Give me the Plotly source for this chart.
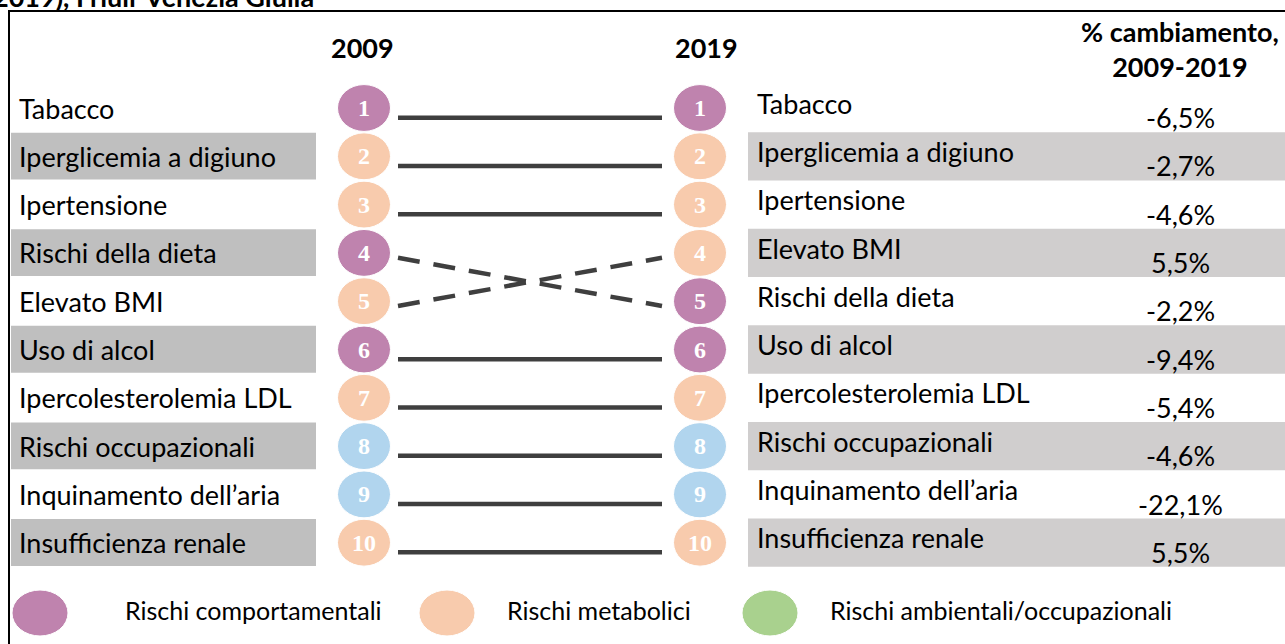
import plotly.graph_objects as go

# ---------------- data ----------------
risks_2009 = ["Tabacco", "Iperglicemia a digiuno", "Ipertensione", "Rischi della dieta",
              "Elevato BMI", "Uso di alcol", "Ipercolesterolemia LDL",
              "Rischi occupazionali", "Inquinamento dell\u2019aria", "Insufficienza renale"]
rank_2009 = [1, 2, 3, 4, 5, 6, 7, 8, 9, 10]
rank_2019 = [1, 2, 3, 5, 4, 6, 7, 8, 9, 10]
pct_change = [-6.5, -2.7, -4.6, -2.2, 5.5, -9.4, -5.4, -4.6, -22.1, 5.5]
risk_group = ["comportamentali", "metabolici", "metabolici", "comportamentali",
              "metabolici", "comportamentali", "metabolici",
              "ambientali", "ambientali", "metabolici"]
legend_labels = ["Rischi comportamentali", "Rischi metabolici", "Rischi ambientali/occupazionali"]
header_left = "2009"
header_right = "2019"
header_change = "% cambiamento,<br>2009-2019"
title_text = "2019), Friuli-Venezia Giulia"

# ---------------- style ----------------
W, H = 1285, 644
CIRCLE_COL = {"comportamentali": "#bf83ae", "metabolici": "#f8cbad", "ambientali": "#b1d5ee"}
LEGEND_COL = ["#bf83ae", "#f8cbad", "#a9d18e"]
BAND_LEFT = "#bfbfbf"
BAND_RIGHT = "#d0cece"
LINE_COL = "#3f3f3f"
SANS = "Lato, 'Open Sans', sans-serif"
SERIF = "'Liberation Serif', 'DejaVu Serif', serif"
FS = 27

ROW0_PX, ROW_STEP = 108, 48.3


def ry(py):
    """pixel y -> rank units on the y axis"""
    return 1 + (py - ROW0_PX) / ROW_STEP


X_LCIRC, X_RCIRC = 364, 700
CIRC_W = 53
CIRC_H = 0.97
X_LINE0, X_LINE1 = 398, 662
X_LLAB, X_RLAB, X_VAL = 17, 755, 1180

fig = go.Figure()
shapes = []
annotations = []

# frame
shapes.append(dict(type="rect", xref="x", yref="y", x0=9, x1=W + 20, y0=ry(11), y1=ry(H + 20),
                   line=dict(color="black", width=2), fillcolor="rgba(0,0,0,0)", layer="above"))

# bands
for r in range(2, 11, 2):
    shapes.append(dict(type="rect", xref="x", yref="y", x0=11, x1=316, y0=r - 0.49, y1=r + 0.48,
                       line=dict(width=0), fillcolor=BAND_LEFT, layer="below"))
    shapes.append(dict(type="rect", xref="x", yref="y", x0=748, x1=W + 5, y0=r - 0.5, y1=r + 0.5,
                       line=dict(width=0), fillcolor=BAND_RIGHT, layer="below"))

# left labels (2009 order)
for name, r in zip(risks_2009, rank_2009):
    annotations.append(dict(x=X_LLAB, y=r, xref="x", yref="y", text=name, showarrow=False,
                            xanchor="left", yanchor="middle",
                            font=dict(family=SANS, size=FS, color="black")))

# right labels and values (2019 order)
for name, r, v in zip(risks_2009, rank_2019, pct_change):
    annotations.append(dict(x=X_RLAB, y=r - 0.1, xref="x", yref="y", text=name, showarrow=False,
                            xanchor="left", yanchor="middle",
                            font=dict(family=SANS, size=FS, color="black")))
    annotations.append(dict(x=X_VAL, y=r + 0.2, xref="x", yref="y",
                            text=f"{v:.1f}".replace(".", ",") + "%", showarrow=False,
                            xanchor="center", yanchor="middle",
                            font=dict(family=SANS, size=FS, color="black")))

# connecting lines
for r0, r1 in zip(rank_2009, rank_2019):
    same = r0 == r1
    off = 0.2 if same else 0.1
    fig.add_trace(go.Scatter(x=[X_LINE0, X_LINE1], y=[r0 + off, r1 + off], mode="lines",
                             line=dict(color=LINE_COL, width=4.5,
                                       dash="solid" if same else "22px,14px"),
                             hoverinfo="skip", showlegend=False))

# circles with rank numbers
for r0, r1, g in zip(rank_2009, rank_2019, risk_group):
    for xc, r in ((X_LCIRC, r0), (X_RCIRC, r1)):
        shapes.append(dict(type="circle", xref="x", yref="y", x0=xc - CIRC_W / 2, x1=xc + CIRC_W / 2,
                           y0=r - CIRC_H / 2, y1=r + CIRC_H / 2,
                           line=dict(color="white", width=1), fillcolor=CIRCLE_COL[g], layer="above"))
        annotations.append(dict(x=xc, y=r, xref="x", yref="y", text=f"<b>{r}</b>", showarrow=False,
                                xanchor="center", yanchor="middle",
                                font=dict(family=SERIF, size=24, color="white")))

# headers
annotations.append(dict(x=362, y=ry(47), xref="x", yref="y", text=f"<b>{header_left}</b>", showarrow=False,
                        font=dict(family=SANS, size=FS, color="black")))
annotations.append(dict(x=706, y=ry(47), xref="x", yref="y", text=f"<b>{header_right}</b>", showarrow=False,
                        font=dict(family=SANS, size=FS, color="black")))
annotations.append(dict(x=1180, y=ry(49), xref="x", yref="y", text=f"<b>{header_change}</b>", showarrow=False,
                        font=dict(family=SANS, size=FS, color="black")))

# cut-off title
annotations.append(dict(x=315, y=ry(14), xref="x", yref="y", text=f"<b>{title_text}</b>", showarrow=False,
                        xanchor="right", yanchor="bottom", borderpad=0,
                        font=dict(family=SANS, size=FS, color="black")))

# legend
leg_x = [40, 447, 770]
leg_text_x = [123, 505, 828]
for lx, tx, lab, col in zip(leg_x, leg_text_x, legend_labels, LEGEND_COL):
    shapes.append(dict(type="circle", xref="x", yref="y", x0=lx - 28, x1=lx + 28,
                       y0=ry(590), y1=ry(636), line=dict(color="white", width=1), fillcolor=col))
    annotations.append(dict(x=tx, y=ry(610), xref="x", yref="y", text=lab, showarrow=False,
                            xanchor="left", yanchor="middle",
                            font=dict(family=SANS, size=25, color="black")))

fig.update_layout(
    width=W, height=H, margin=dict(l=0, r=0, t=0, b=0),
    paper_bgcolor="white", plot_bgcolor="white",
    xaxis=dict(range=[0, W], visible=False, fixedrange=True),
    yaxis=dict(range=[ry(H), ry(0)], visible=False, fixedrange=True),
    shapes=shapes, annotations=annotations, showlegend=False,
)

fig.write_html("out.html", config={"displayModeBar": False},
               post_script="document.body.style.margin='0';document.body.style.overflow='hidden';")
